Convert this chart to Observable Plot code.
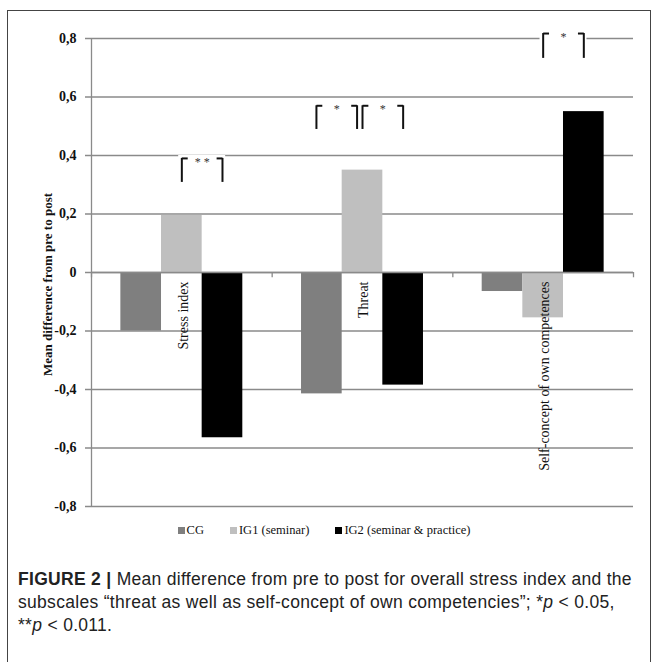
<!DOCTYPE html>
<html>
<head>
<meta charset="utf-8">
<script src="https://cdn.jsdelivr.net/npm/d3@7"></script>
<script src="https://cdn.jsdelivr.net/npm/@observablehq/plot@0.6"></script>
<style>
  html, body { margin: 0; padding: 0; background: #fff; }
  body { width: 657px; height: 662px; position: relative; overflow: hidden; }
  #frame { position: absolute; left: 7px; top: 10px; width: 642px; height: 700px; border: 1px solid #444; border-bottom: none; }
  #chart { position: absolute; left: 0; top: 0; }
  #legend { position: absolute; top: 523px; left: 0; width: 648px; display: flex; justify-content: center; gap: 26px;
            font-family: "Liberation Serif", "Times New Roman", serif; font-size: 12.5px; color: #111; }
  #legend .item { display: flex; align-items: center; }
  #legend .sw { width: 7px; height: 7px; margin-right: 2px; display: inline-block; }
  #caption { position: absolute; left: 18px; top: 568px; width: 630px; font-family: "Liberation Sans", Arial, sans-serif;
             font-size: 17.5px; letter-spacing: 0.3px; line-height: 23px; color: #222; white-space: nowrap; }
</style>
</head>
<body>
<div id="frame"></div>
<div id="chart"></div>
<div id="legend"></div>
<div id="caption"></div>
<script>
// ---- data ----
const categories = ["Stress index", "Threat", "Self-concept of own competences"];
const groups = ["CG", "IG1 (seminar)", "IG2 (seminar & practice)"];
const cgValues  = [-0.20, -0.415, -0.065];
const ig1Values = [0.195, 0.35, -0.155];
const ig2Values = [-0.565, -0.385, 0.55];
const groupColors = ["#7f7f7f", "#bfbfbf", "#000000"];
const yTicks = [0.8, 0.6, 0.4, 0.2, 0, -0.2, -0.4, -0.6, -0.8];
const yTickLabels = ["0,8", "0,6", "0,4", "0,2", "0", "-0,2", "-0,4", "-0,6", "-0,8"];
const yTitle = "Mean difference from pre to post";
// significance brackets (between two adjacent bars of a category)
const bracketCategory = ["Stress index", "Threat", "Threat", "Self-concept of own competences"];
const bracketFromGroup = ["IG1 (seminar)", "CG", "IG1 (seminar)", "IG1 (seminar)"];
const bracketToGroup = ["IG2 (seminar & practice)", "IG1 (seminar)", "IG2 (seminar & practice)", "IG2 (seminar & practice)"];
const bracketShift = [0, -0.12, 0, 0];
const bracketTop = [0.39, 0.57, 0.57, 0.817];
const bracketBottom = [0.308, 0.489, 0.489, 0.732];
const bracketStars = ["* *", "*", "*", "*"];

// ---- layout helpers (category units: each category spans 4 units) ----
const barW = 0.9;
const seriesValues = [cgValues, ig1Values, ig2Values];
const pos = (ci, gi) => 4 * ci + 2 + (gi - 1) * barW;
const rows = categories.flatMap((c, ci) => groups.map((g, gi) => ({category: c, ci, group: g, gi, value: seriesValues[gi][ci]})));
const brackets = bracketCategory.map((c, i) => {
  const ci = categories.indexOf(c);
  return {
    from: pos(ci, groups.indexOf(bracketFromGroup[i])) + bracketShift[i],
    to: pos(ci, groups.indexOf(bracketToGroup[i])) + bracketShift[i],
    top: bracketTop[i], bottom: bracketBottom[i], stars: bracketStars[i]
  };
});
const legs = brackets.flatMap(b => [{x: b.from, top: b.top, bottom: b.bottom, hook: 0.13}, {x: b.to, top: b.top, bottom: b.bottom, hook: -0.13}]);

const serif = "'Liberation Serif', 'Times New Roman', serif";

const chart = Plot.plot({
  width: 657,
  height: 520,
  marginTop: 38,
  marginBottom: 14,
  marginLeft: 91,
  marginRight: 24,
  x: {domain: [0, 12], axis: null},
  y: {domain: [-0.8, 0.8], axis: null},
  color: {domain: groups, range: groupColors},
  style: {fontFamily: serif, background: "transparent"},
  marks: [
    Plot.ruleY(yTicks, {stroke: "#8a8a8a", strokeWidth: 1.3, insetLeft: -6}),
    Plot.rect(rows, {x1: d => pos(d.ci, d.gi) - barW / 2, x2: d => pos(d.ci, d.gi) + barW / 2, y1: 0, y2: "value", fill: "group"}),
    Plot.ruleY([0], {stroke: "#8a8a8a", strokeWidth: 1.3}),
    Plot.ruleX([0, 4, 8, 12], {y1: 0, y2: -0.018, stroke: "#8a8a8a", strokeWidth: 1.3}),
    Plot.ruleX([0], {y1: -0.8, y2: 0.8, stroke: "#8a8a8a", strokeWidth: 1.3}),
    // bracket halos, legs, hooks, stars
    Plot.rect(brackets, {x1: d => d.from - 0.07, x2: d => d.to + 0.07, y1: "bottom", y2: d => d.top + 0.01, fill: "white"}),
    Plot.ruleX(legs, {x: "x", y1: "bottom", y2: "top", stroke: "#111", strokeWidth: 2}),
    Plot.link(legs, {x1: "x", x2: d => d.x + d.hook, y1: "top", y2: "top", stroke: "#111", strokeWidth: 2}),
    Plot.text(brackets, {x: d => (d.from + d.to) / 2, y: "top", text: "stars", lineAnchor: "top", fontSize: 12, fill: "#333", dy: -1}),
    // y tick labels
    Plot.text(yTicks, {x: 0, y: d => d, text: (d, i) => yTickLabels[i], textAnchor: "end", dx: -15, fontWeight: "bold", fontSize: 14, fill: "#111"}),
    // y title
    Plot.text([yTitle], {frameAnchor: "left", text: d => d, rotate: -90, textAnchor: "middle", dx: -44, dy: 12, fontWeight: "bold", fontSize: 13, fill: "#111"}),
    // category labels
    Plot.text(categories, {x: (d, i) => 4 * i + 2, y: 0, text: d => d, rotate: -90, textAnchor: "end", dy: 9, dx: 1.5, fontSize: 14, fill: "#111"})
  ]
});
document.getElementById("chart").appendChild(chart);

// legend
const legend = document.getElementById("legend");
groups.forEach((g, i) => {
  const item = document.createElement("span");
  item.className = "item";
  const sw = document.createElement("span");
  sw.className = "sw";
  sw.style.background = groupColors[i];
  item.appendChild(sw);
  item.appendChild(document.createTextNode(g));
  legend.appendChild(item);
});

// caption
document.getElementById("caption").innerHTML =
  '<b>FIGURE 2 |</b> Mean difference from pre to post for overall stress index and the<br>' +
  'subscales \u201cthreat as well as self-concept of own competencies\u201d; *<i>p</i> &lt; 0.05,<br>' +
  '**<i>p</i> &lt; 0.011.';
</script>
</body>
</html>
